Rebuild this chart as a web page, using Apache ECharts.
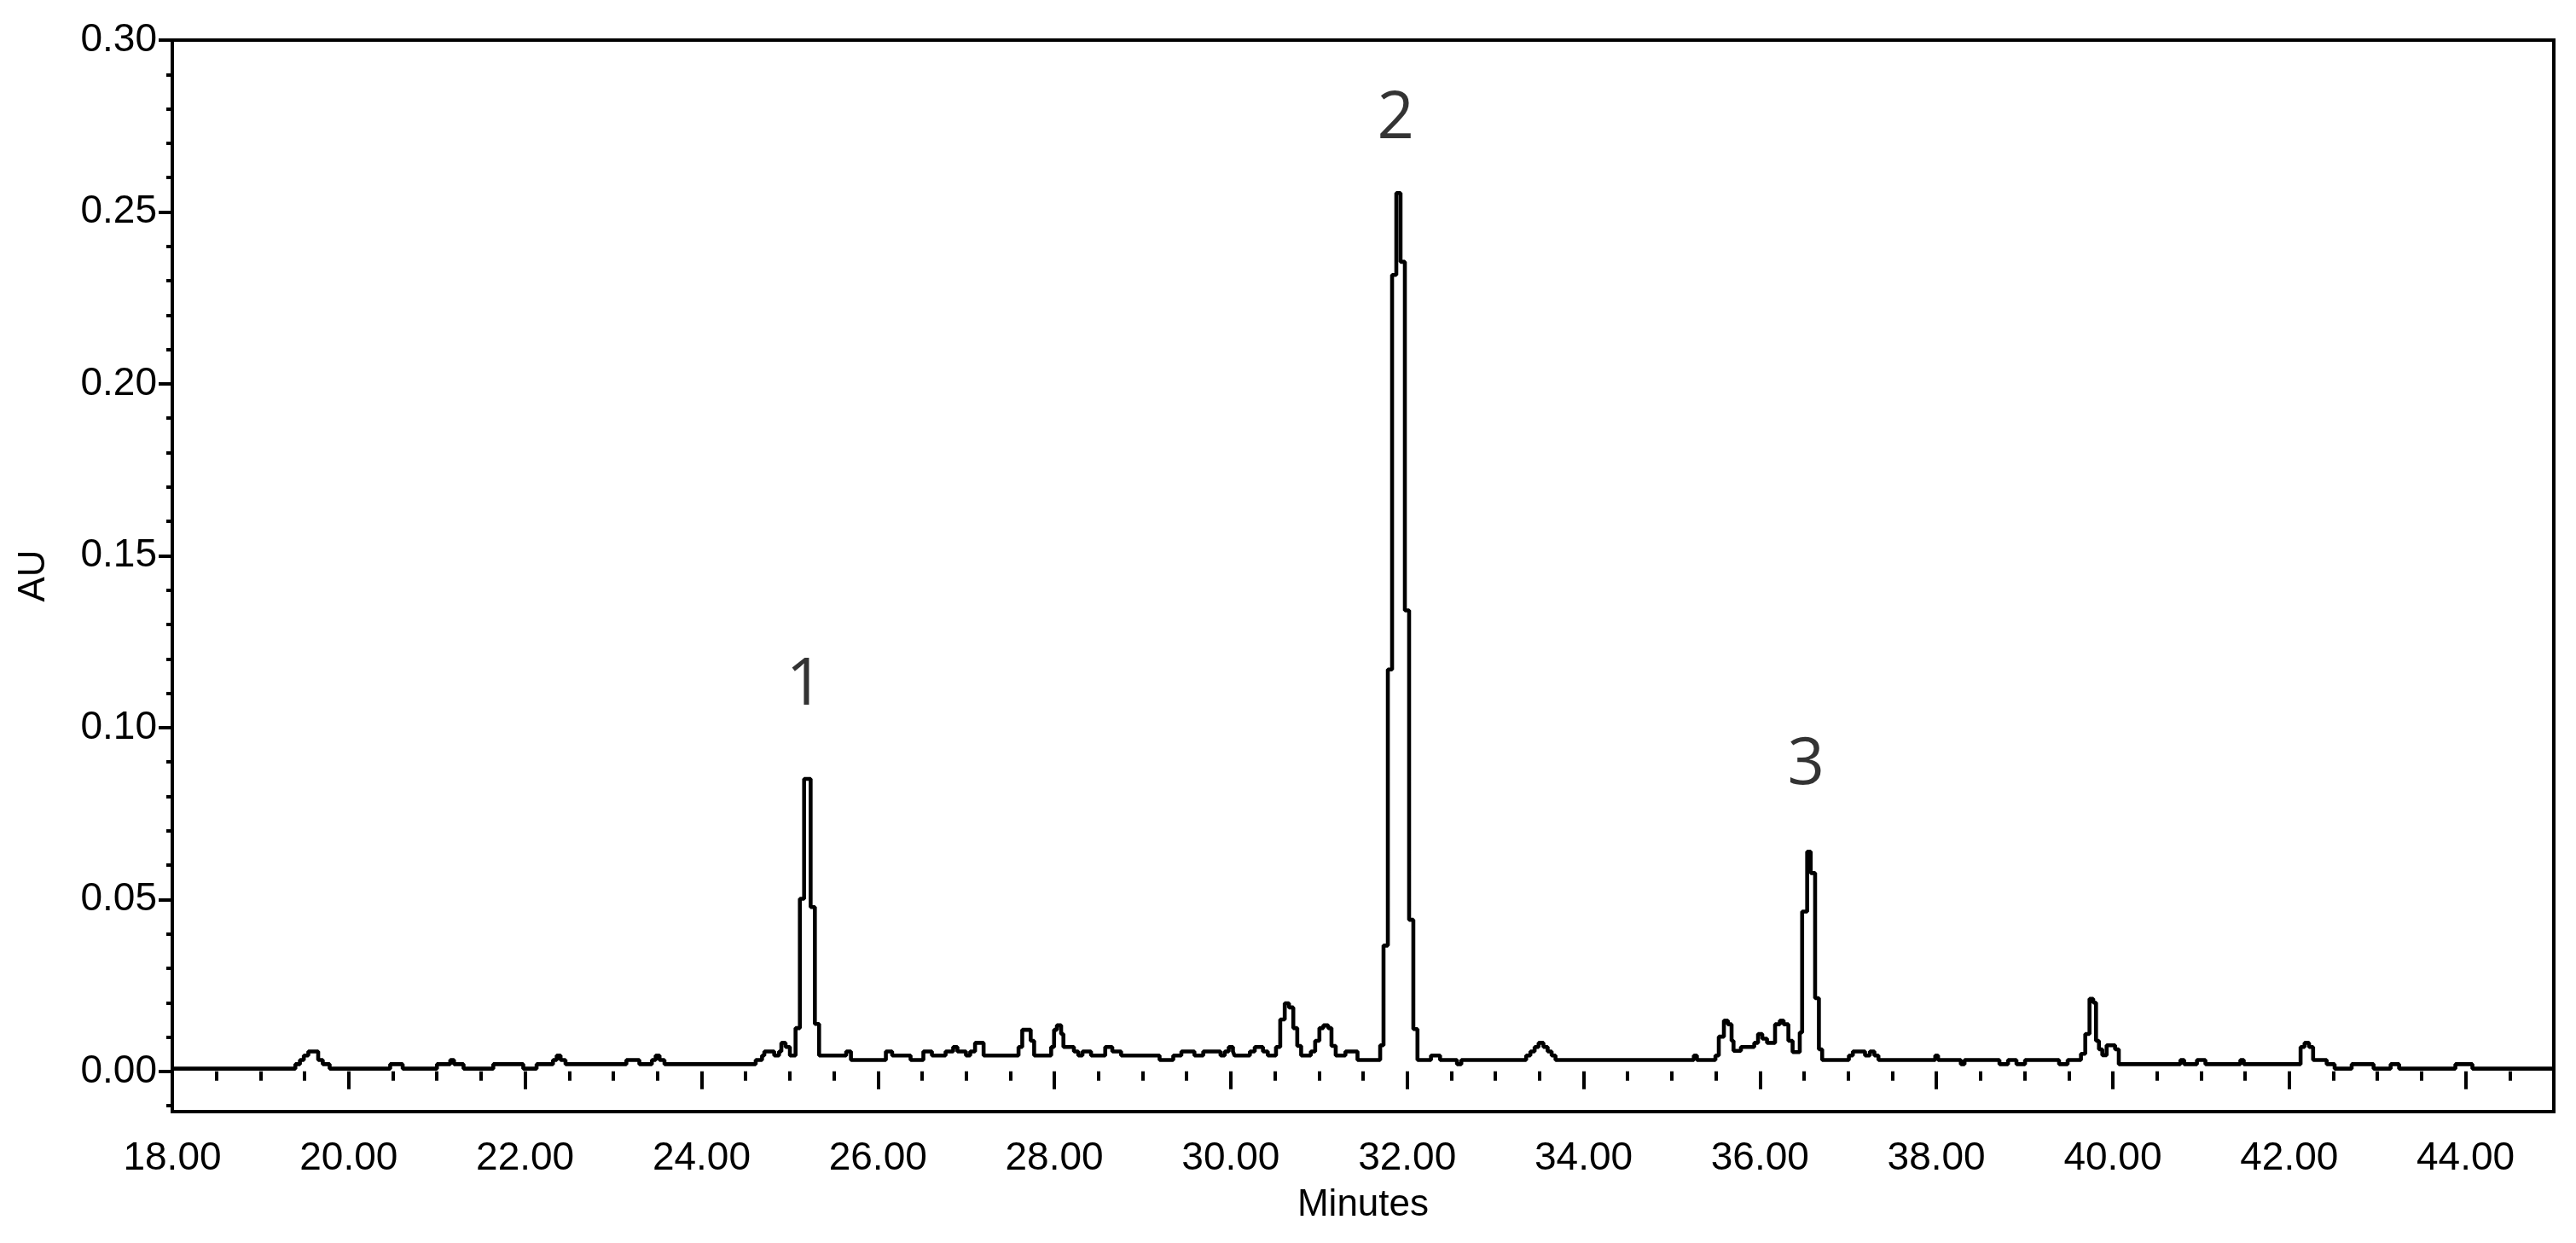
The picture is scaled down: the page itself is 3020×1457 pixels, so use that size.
<!DOCTYPE html>
<html>
<head>
<meta charset="utf-8">
<script src="https://cdn.jsdelivr.net/npm/echarts@6/dist/echarts.min.js"></script>
<style>
  html, body { margin: 0; padding: 0; background: #fff; }
  #chart { width: 3020px; height: 1457px; }
</style>
</head>
<body>
<div id="chart"></div>
<script>
// retention time (min) where each trace step starts
const times = [
  18.000, 19.395, 19.447, 19.491, 19.542, 19.654, 19.706, 19.784, 20.470, 20.612,
  21.000, 21.151, 21.194, 21.302, 21.639, 21.979, 22.130, 22.316, 22.358, 22.402,
  22.458, 23.148, 23.295, 23.437, 23.480, 23.524, 23.580, 24.614, 24.686, 24.712,
  24.824, 24.879, 24.905, 24.953, 25.002, 25.066, 25.115, 25.163, 25.237, 25.285,
  25.333, 25.640, 25.694, 26.090, 26.161, 26.370, 26.515, 26.612, 26.767, 26.853,
  26.901, 26.998, 27.046, 27.101, 27.198, 27.594, 27.636, 27.732, 27.771, 27.964,
  27.997, 28.029, 28.077, 28.103, 28.222, 28.271, 28.319, 28.416, 28.577, 28.657,
  28.757, 29.193, 29.348, 29.440, 29.588, 29.688, 29.884, 29.932, 29.977, 30.025,
  30.043, 30.217, 30.272, 30.365, 30.420, 30.513, 30.561, 30.612, 30.660, 30.709,
  30.754, 30.798, 30.908, 30.957, 31.005, 31.050, 31.104, 31.142, 31.190, 31.300,
  31.437, 31.694, 31.732, 31.781, 31.829, 31.877, 31.925, 31.974, 32.022, 32.070,
  32.117, 32.270, 32.373, 32.565, 32.614, 33.349, 33.397, 33.445, 33.490, 33.545,
  33.593, 33.638, 33.682, 35.250, 35.285, 35.495, 35.533, 35.591, 35.636, 35.678,
  35.700, 35.784, 35.935, 35.978, 36.026, 36.080, 36.171, 36.225, 36.268, 36.322,
  36.370, 36.451, 36.478, 36.535, 36.575, 36.625, 36.668, 36.705, 37.008, 37.053,
  37.191, 37.246, 37.297, 37.343, 37.987, 38.019, 38.277, 38.319, 38.715, 38.812,
  38.908, 39.005, 39.391, 39.488, 39.639, 39.688, 39.736, 39.778, 39.810, 39.843,
  39.881, 39.930, 40.026, 40.068, 40.766, 40.809, 40.954, 41.050, 41.446, 41.485,
  42.129, 42.174, 42.225, 42.271, 42.425, 42.515, 42.708, 42.957, 43.150, 43.246,
  43.884, 44.077, 45.000
];
// absorbance (AU)
const au = [
  0.0008, 0.0021, 0.0033, 0.0046, 0.0058, 0.0033, 0.0021, 0.0008, 0.0021, 0.0008,
  0.0021, 0.0033, 0.0021, 0.0008, 0.0021, 0.0008, 0.0021, 0.0033, 0.0046, 0.0033,
  0.0021, 0.0033, 0.0021, 0.0033, 0.0046, 0.0033, 0.0021, 0.0033, 0.0046, 0.0058,
  0.0046, 0.0058, 0.0083, 0.0071, 0.0046, 0.0126, 0.0502, 0.0851, 0.0478, 0.0138,
  0.0046, 0.0058, 0.0033, 0.0058, 0.0046, 0.0033, 0.0058, 0.0046, 0.0058, 0.0071,
  0.0058, 0.0046, 0.0058, 0.0083, 0.0046, 0.0071, 0.0121, 0.0089, 0.0046, 0.0071,
  0.0121, 0.0134, 0.0109, 0.0071, 0.0058, 0.0046, 0.0058, 0.0046, 0.0071, 0.0058,
  0.0046, 0.0033, 0.0046, 0.0058, 0.0046, 0.0058, 0.0046, 0.0058, 0.0071, 0.0058,
  0.0046, 0.0058, 0.0071, 0.0058, 0.0046, 0.0071, 0.0151, 0.0198, 0.0186, 0.0126,
  0.0074, 0.0046, 0.0058, 0.0089, 0.0126, 0.0134, 0.0126, 0.0074, 0.0046, 0.0058,
  0.0033, 0.0076, 0.0366, 0.1169, 0.2317, 0.2555, 0.2355, 0.1341, 0.0441, 0.0123,
  0.0033, 0.0046, 0.0033, 0.0021, 0.0033, 0.0046, 0.0058, 0.0071, 0.0083, 0.0071,
  0.0058, 0.0046, 0.0033, 0.0046, 0.0033, 0.0046, 0.0101, 0.0148, 0.0137, 0.0089,
  0.0060, 0.0071, 0.0083, 0.0109, 0.0095, 0.0083, 0.0137, 0.0148, 0.0137, 0.0089,
  0.0056, 0.0113, 0.0465, 0.0639, 0.0577, 0.0213, 0.0064, 0.0033, 0.0046, 0.0058,
  0.0046, 0.0058, 0.0046, 0.0033, 0.0046, 0.0033, 0.0021, 0.0033, 0.0021, 0.0033,
  0.0021, 0.0033, 0.0021, 0.0033, 0.0051, 0.0109, 0.0211, 0.0200, 0.0089, 0.0064,
  0.0047, 0.0076, 0.0064, 0.0021, 0.0033, 0.0021, 0.0033, 0.0021, 0.0033, 0.0021,
  0.0071, 0.0083, 0.0071, 0.0033, 0.0021, 0.0008, 0.0021, 0.0008, 0.0021, 0.0008,
  0.0021, 0.0008, 0.0008
];

// peak numbers and where they sit
const peakNames = ["1", "2", "3"];
const peakT = [25.17, 31.87, 36.52];
const peakV = [0.112, 0.2768, 0.089];

// axis tick labels
const xTicks = [18, 20, 22, 24, 26, 28, 30, 32, 34, 36, 38, 40, 42, 44];
const yTicks = [0, 0.05, 0.1, 0.15, 0.2, 0.25, 0.3];

const xMin = 18, xMax = 45;
const yMin = -0.0117, yMax = 0.3;

// minor ticks: every 0.5 min and every 0.01 AU
const xMinor = [];
for (let i = 37; i <= 90; i++) {
  if (i % 4 !== 0) xMinor.push(i / 2);
}
const yMinor = [];
for (let i = -1; i <= 29; i++) {
  if (i % 5 !== 0) yMinor.push(i / 100);
}

const font = "Liberation Sans";
const chart = echarts.init(document.getElementById("chart"));

chart.setOption({
  animation: false,
  backgroundColor: "#fff",
  grid: {
    left: 202,
    right: 26,
    top: 47,
    bottom: 154,
    show: true,
    borderColor: "#000",
    borderWidth: 4,
    outerBoundsMode: "none",
  },
  xAxis: [
    {
      type: "value",
      min: xMin,
      max: xMax,
      position: "bottom",
      name: "Minutes",
      nameLocation: "middle",
      nameGap: 88,
      nameTextStyle: { fontFamily: font, fontSize: 44, color: "#000" },
      axisLine: { show: false },
      splitLine: { show: false },
      axisTick: {
        show: true,
        length: 21,
        customValues: xTicks,
        lineStyle: { color: "#000", width: 4 },
      },
      axisLabel: {
        customValues: xTicks,
        margin: 32,
        fontFamily: font,
        fontSize: 46,
        color: "#000",
        formatter: (v) => v.toFixed(2),
      },
    },
    {
      // minor ticks only
      type: "value",
      min: xMin,
      max: xMax,
      position: "bottom",
      offset: 0,
      axisLine: { show: false },
      splitLine: { show: false },
      axisLabel: { show: false },
      axisTick: {
        show: true,
        length: 11,
        customValues: xMinor,
        lineStyle: { color: "#000", width: 4 },
      },
    },
  ],
  yAxis: [
    {
      type: "value",
      min: yMin,
      max: yMax,
      position: "left",
      name: "AU",
      nameLocation: "middle",
      nameRotate: 90,
      nameGap: 140,
      nameTextStyle: { fontFamily: font, fontSize: 44, color: "#000" },
      axisLine: { show: false },
      splitLine: { show: false },
      axisTick: {
        show: true,
        length: 16,
        customValues: yTicks,
        lineStyle: { color: "#000", width: 4 },
      },
      axisLabel: {
        customValues: yTicks,
        margin: 18,
        fontFamily: font,
        fontSize: 46,
        color: "#000",
        padding: [0, 0, 10, 0],
        formatter: (v) => v.toFixed(2),
      },
    },
    {
      // minor ticks only
      type: "value",
      min: yMin,
      max: yMax,
      position: "left",
      offset: 0,
      axisLine: { show: false },
      splitLine: { show: false },
      axisLabel: { show: false },
      axisTick: {
        show: true,
        length: 7,
        customValues: yMinor,
        lineStyle: { color: "#000", width: 4 },
      },
    },
  ],
  series: [
    {
      name: "trace",
      type: "line",
      step: "end",
      xAxisIndex: 0,
      yAxisIndex: 0,
      data: times.map((t, i) => [t, au[i]]),
      showSymbol: false,
      symbol: "none",
      lineStyle: { color: "#000", width: 4.6 },
    },
    {
      name: "peaks",
      type: "scatter",
      xAxisIndex: 0,
      yAxisIndex: 0,
      symbolSize: 1,
      itemStyle: { color: "rgba(0,0,0,0)" },
      data: peakT.map((t, i) => [t, peakV[i], peakNames[i]]),
      label: {
        show: true,
        position: "inside",
        formatter: (p) => p.data[2],
        fontFamily: "Open Sans",
        fontSize: 76,
        color: "#000",
      },
    },
  ],
});
</script>
</body>
</html>
